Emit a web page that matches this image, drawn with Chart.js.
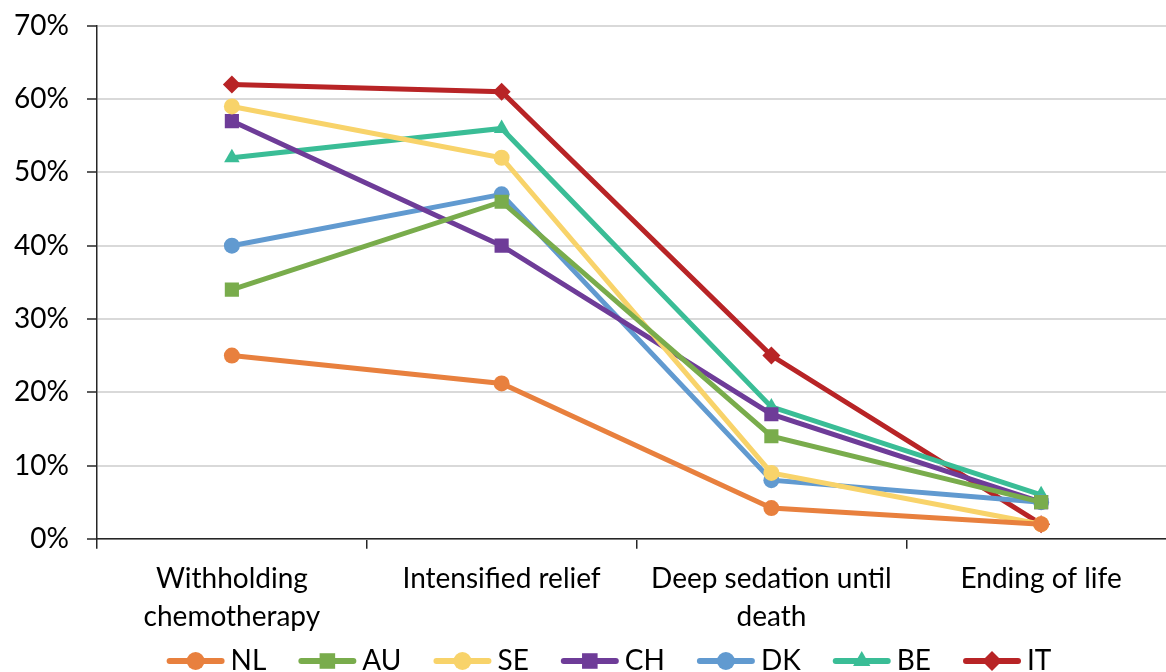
<!DOCTYPE html>
<html>
<head>
<meta charset="utf-8">
<script src="https://cdn.jsdelivr.net/npm/chart.js@4"></script>
<style>
html,body{margin:0;padding:0;background:#fff;overflow:hidden}
#wrap{position:relative;top:-9px;width:1186px;height:694px}
</style>
</head>
<body>
<div id="wrap"><canvas id="c"></canvas></div>
<script>
const categories=[["Withholding","chemotherapy"],"Intensified relief",["Deep sedation until","death"],"Ending of life"];
const NL=[25,21.2,4.2,2];
const AU=[34,46,14,5];
const SE=[59,52,9,2];
const CH=[57,40,17,5];
const DK=[40,47,8,5];
const BE=[52,56,18,6];
const IT=[62,61,25,2];
const yTicks=[0,10,20,30,40,50,60,70];

const FONT="Lato, 'Liberation Sans', sans-serif";
function ds(label,data,color,style,r){
  return {label:label,data:data,borderColor:color,backgroundColor:color,borderWidth:5,
    pointStyle:style,pointRadius:r,pointHoverRadius:r,pointBorderWidth:0,tension:0,fill:false};
}

// legend box is left empty; draw a short thick line with the marker in it
const legendMarks={
  id:'legendMarks',
  afterDraw(chart){
    const lg=chart.legend;if(!lg||!lg.legendHitBoxes)return;
    const ctx=chart.ctx;
    lg.legendHitBoxes.forEach((b,i)=>{
      const d=chart.data.datasets[i];
      const y=b.top+b.height/2, x0=b.left+35, x1=b.left+87;
      ctx.save();
      ctx.strokeStyle=d.borderColor;ctx.fillStyle=d.borderColor;
      ctx.lineWidth=6;ctx.lineCap='round';
      ctx.beginPath();ctx.moveTo(x0,y);ctx.lineTo(x1,y);ctx.stroke();
      Chart.helpers.drawPoint(ctx,{pointStyle:d.pointStyle,radius:d.pointRadius+1,borderWidth:0},(x0+x1)/2,y);
      ctx.restore();
    });
  }
};

new Chart(document.getElementById('c'),{
  type:'line',
  data:{labels:categories,datasets:[
    ds('NL',NL,'#E8803E','circle',8),
    ds('AU',AU,'#79AC4C','rect',10),
    ds('SE',SE,'#F8D36A','circle',8),
    ds('CH',CH,'#6E3C98','rect',10),
    ds('DK',DK,'#619AD0','circle',8),
    ds('BE',BE,'#3ABD96','triangle',9),
    ds('IT',IT,'#B82426','rectRot',9)
  ]},
  options:{
    responsive:true,maintainAspectRatio:false,animation:false,
    plugins:{
      tooltip:{enabled:false},
      legend:{position:'bottom',
        labels:{font:{family:FONT,size:28},color:'#000',boxWidth:82,boxHeight:6,padding:0,
          generateLabels(chart){
            return chart.data.datasets.map((d,i)=>({text:d.label,fillStyle:'rgba(0,0,0,0)',strokeStyle:'rgba(0,0,0,0)',lineWidth:0,datasetIndex:i,fontColor:'#000'}));
          }}}
    },
    scales:{
      x:{offset:true,
        grid:{offset:true,drawOnChartArea:false,color:'#262626',tickLength:10,lineWidth:1.5},
        border:{color:'#262626',width:1.5},
        ticks:{font:{family:FONT,size:28,lineHeight:1.36},color:'#000',maxRotation:0,autoSkip:false,padding:11}
      },
      y:{min:0,max:70,
        afterFit(s){s.width=97;},
        afterBuildTicks(s){s.ticks=yTicks.map(v=>({value:v}));},
        grid:{color:'#D9D9D9',lineWidth:2,drawTicks:true,tickLength:10,tickColor:'#262626',tickWidth:1.5},
        border:{display:true,color:'#262626',width:1.5},
        ticks:{font:{family:FONT,size:28},color:'#000',padding:18,callback:v=>v+'%'}
      }
    }
  },
  plugins:[legendMarks]
});
</script>
</body>
</html>
